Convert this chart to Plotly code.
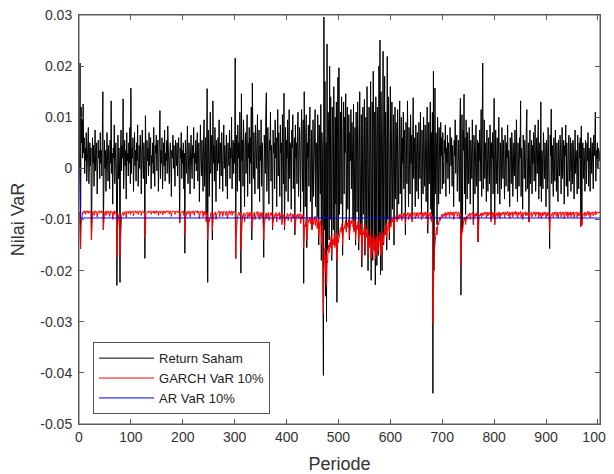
import plotly.graph_objects as go

# Return Saham (units of 1e-4), read period by period from the reference
return_saham_e4 = [
    0, 206, -157, 120, 50, 95, 20, 126, 30, 60, -10, 40, 15, 70, -25, 35, 20, 80, -30, 25, 50, 5, 40, -140, 30,
    60, 10, 45, -35, 20, 75, -5, 30, 50, -50, 15, 55, 20, 35, -20, 70, 10, 35, -15, 45, 150, -120, 25, 55, 0,
    35, -45, 20, 70, 15, -25, 45, 25, -40, 55, 10, 132, -10, 30, -70, 40, 20, 85, -30, 15, 50, 0, -229, 30, 65,
    -20, 40, 10, -223, 30, 75, -5, 45, 20, 136, -40, 25, 55, 5, 35, -60, 70, 15, 30, -15, 50, 10, 80, -30, 157,
    -10, 40, 20, 60, -45, 25, 70, 5, 35, -25, 50, 15, 85, -35, 20, 45, 0, 65, 25, -50, 30, 75, 10, -20, 50,
    15, -176, 103, 30, -30, 55, 15, 40, -15, 70, 5, 35, 60, -40, 25, 10, 50, -10, 80, 20, -35, 45, 30, 65, -5,
    30, 55, -45, 20, 45, 113, -20, 35, 10, 60, -40, 20, 50, 5, 75, -25, 30, 15, 55, -10, 83, 20, 40, -30, 25,
    50, 10, -55, 35, 20, 65, 0, 45, 15, -35, 55, 25, 5, 50, -15, 30, 60, 10, -107, 40, 20, 70, -20, 35, 10,
    50, -40, 30, -166, 55, 20, -10, 40, 83, -30, 25, 50, 15, -50, 35, 65, 5, -20, 45, 20, 80, -40, 30, 10, 55,
    -5, 40, 70, -25, 20, 50, -65, 30, 85, 15, -15, 55, 25, -45, 45, 95, -35, 20, 60, -90, 35, 156, -223, 75, 30,
    -55, 50, 110, -10, 30, 65, -140, 132, 10, 45, -25, 80, 20, -65, 55, 30, -5, 60, 10, 95, -40, 25, 50, -15, 70,
    15, -45, 35, 85, 0, 45, 25, -35, 65, 20, -60, 50, 30, 5, 75, -20, 40, 20, 100, -40, 30, 55, -10, 50, 10,
    216, -176, 65, 30, -45, 85, 20, 50, -25, 110, 40, -205, 146, 15, 55, -35, 95, 25, -75, 45, 70, -10, 30, 105, -55,
    50, 20, 80, -30, 60, 10, 120, -140, 167, 40, -20, 70, 20, -50, 85, 35, 0, 55, 105, -40, 25, 75, -65, 45, 15,
    95, -35, 50, 20, -85, -174, 65, 30, -10, 105, 148, -45, 25, 80, 10, -70, 55, 35, 110, -25, 45, 15, -120, 75, 30,
    50, -40, 95, 20, 60, -75, 35, 115, -15, 70, 5, -55, 85, 30, 50, -95, 105, 25, -30, 147, -120, 45, 80, -45, 55,
    20, 95, -65, 35, 115, -20, 50, 10, -80, 75, 40, 105, -40, 30, 60, -130, 85, 20, 50, -30, 70, 110, -55, 15, 80,
    35, -85, 55, 115, 20, -45, 95, -225, 150, 30, -75, 70, 105, -155, 50, 20, 85, -35, 60, 120, -65, 25, 75, -120, 45,
    95, -55, 20, 80, 115, -75, 50, 30, -95, 105, 60, -150, 85, 25, -50, 125, -180, 70, 40, -200, -405, 296, -120, 170, -250,
    50, -300, 243, -160, 110, 65, -140, 200, -100, 140, 30, -180, 120, 75, -120, 160, 25, -150, 100, -70, 130, -262, 50, 178, -130,
    197, -90, 50, 110, -70, 140, 25, -170, 80, 130, -50, 100, 30, 146, -120, 60, 120, -80, 40, 105, -140, 70, 15, 115, -40,
    90, 35, -100, 125, -120, 50, 80, -150, 110, 25, -85, 130, 60, -160, 90, 150, -130, 45, 105, -193, 75, 120, -90, 30, 135,
    -170, 60, 100, -120, 160, 80, -200, 35, 120, -150, 90, 170, -219, 50, 130, -180, 190, 70, -160, 110, -228, 140, 40, -190, 120,
    90, -170, 200, -140, 251, -208, 150, 50, -200, 130, 229, -150, 80, 180, -130, 110, 35, -160, 219, -100, 140, 60, -140, 100, 160,
    -110, 80, 130, -80, 50, 105, -150, 25, 120, -60, 90, 40, -100, 115, 20, -70, 85, 132, -50, 35, 100, -90, 60, 10, 110,
    -40, 75, 25, -130, 90, 50, -30, 132, 20, -75, 80, 35, -50, 105, 10, 65, -100, 40, 138, -20, 60, 25, -75, 85, 35,
    -45, 70, 15, -60, 90, 40, -20, 110, 50, -90, 75, 20, -50, 100, 35, -35, 85, 10, -65, 60, 120, -127, 40, 90, -30,
    50, 130, -80, 70, -90, 110, -440, 190, -200, 90, 157, -50, 70, 35, -110, 100, 40, -70, 80, 20, -50, 90, 25, 60, -40,
    70, 15, -30, 55, 30, 85, -55, 40, 10, 65, -20, 50, 25, -50, 80, 35, 5, 60, -35, 45, 20, -75, 55, 25, 95,
    -10, 40, 65, -45, 25, 55, 10, -65, 85, 137, -248, 50, 105, -120, 75, 35, 145, -50, 60, -90, 95, 25, -60, 70, 40,
    -30, 80, 20, -70, 55, 35, -20, 95, 5, -110, 65, 45, -50, 30, 85, -35, 20, 55, -144, 50, 15, 75, -25, 40, 115,
    -55, 65, 206, -40, 30, 95, -20, 50, 10, -65, 75, 30, -45, 60, 20, -30, 85, 40, -100, 50, 20, 70, -50, 35, 137,
    -110, 45, 75, -30, 25, 60, -50, 35, 100, 10, -70, 50, 20, -40, 80, 35, -20, 55, 5, -60, 65, 30, -35, 50, 20,
    85, -45, 35, 15, -75, 60, 25, -30, 70, 40, -55, 20, 50, -15, 75, 35, -40, 95, 10, -65, 50, 25, -35, 60, 20,
    132, -55, 40, 15, -80, 65, 35, -20, 55, 20, -45, 80, 115, -40, 30, 50, -105, 35, 75, -30, 20, 55, -50, 45, 10,
    70, -25, 35, 85, -45, 25, 60, -10, 40, 95, -60, 20, 50, -35, 130, -65, 35, 20, -40, 70, 30, -20, 50, 10, -75,
    55, 35, -40, 80, 20, -45, -157, 65, 25, 116, -30, 45, 15, -55, 60, 35, -25, 75, 20, -45, 50, 10, -65, 55, 30,
    -15, 65, 40, -50, 35, 80, -20, 20, 55, -70, 45, 25, 85, -35, 50, 15, -55, 40, 65, -25, 35, 60, -45, 20, 50,
    -30, 55, 25, -60, 45, 75, -10, 35, 10, -50, 65, 30, -40, 50, 20, 60, -114, 83, -110, 35, 50, -20, 40, 20, -45,
    55, 30, -30, 50, 15, 70, -35, 40, 25, -45, 60, 35, -10, 50, 10, -40, 65, 25, 45, 110, -25, 35, 20, 50, 0,
    40, 25, 15, 35,
]

# GARCH VaR 10% (units of 1e-4)
garch_var_e4 = [
    -85, -130, -157, -110, -95, -90, -86, -88, -84, -86, -83, -85, -90, -84, -86, -83, -85, -88, -84, -86, -83, -85, -87, -140, -100,
    -90, -84, -86, -92, -85, -83, -86, -84, -85, -95, -86, -84, -83, -86, -88, -84, -85, -83, -87, -85, -84, -120, -95, -88, -85,
    -84, -92, -86, -83, -85, -88, -84, -86, -94, -85, -83, -84, -86, -85, -100, -88, -84, -83, -90, -85, -84, -86, -174, -120, -100,
    -95, -90, -88, -170, -130, -105, -95, -90, -88, -86, -92, -87, -85, -84, -86, -96, -85, -84, -86, -88, -84, -85, -83, -90, -85,
    -87, -84, -85, -83, -93, -86, -84, -85, -83, -88, -85, -84, -83, -90, -86, -84, -85, -83, -86, -92, -85, -84, -83, -87, -85,
    -86, -135, -100, -90, -88, -86, -84, -85, -87, -83, -85, -84, -83, -90, -86, -84, -85, -87, -83, -85, -89, -84, -86, -83, -87,
    -85, -84, -92, -86, -84, -83, -88, -85, -84, -83, -91, -86, -84, -83, -85, -88, -84, -85, -83, -86, -84, -83, -85, -89, -84,
    -83, -85, -94, -86, -84, -83, -85, -84, -86, -90, -84, -83, -85, -84, -87, -85, -83, -84, -107, -92, -88, -85, -87, -84, -85,
    -83, -92, -86, -130, -100, -92, -88, -85, -84, -89, -85, -83, -84, -95, -86, -84, -85, -88, -84, -85, -83, -92, -86, -84, -83,
    -86, -84, -83, -88, -85, -84, -98, -88, -84, -85, -86, -84, -83, -95, -86, -84, -90, -85, -84, -105, -92, -88, -140, -110, -98,
    -105, -95, -90, -88, -86, -85, -120, -100, -92, -89, -91, -87, -85, -100, -90, -87, -86, -84, -85, -83, -95, -88, -85, -87, -84,
    -85, -94, -87, -84, -85, -84, -86, -92, -85, -84, -98, -88, -85, -84, -83, -90, -86, -84, -83, -92, -86, -84, -87, -84, -85,
    -84, -176, -130, -105, -100, -92, -88, -86, -92, -87, -86, -160, -120, -100, -92, -95, -89, -87, -105, -94, -90, -89, -88, -86, -98,
    -92, -88, -86, -95, -89, -87, -85, -120, -105, -95, -91, -88, -86, -100, -92, -88, -86, -85, -84, -95, -89, -86, -100, -92, -88,
    -86, -95, -89, -87, -110, -140, -112, -98, -92, -89, -87, -98, -91, -88, -86, -102, -93, -89, -87, -92, -88, -86, -115, -100, -93,
    -90, -96, -89, -87, -86, -105, -94, -90, -92, -88, -86, -100, -92, -89, -87, -110, -97, -91, -95, -90, -115, -102, -95, -98, -92,
    -90, -88, -102, -94, -90, -93, -89, -87, -105, -95, -91, -89, -97, -92, -89, -120, -104, -96, -92, -95, -91, -89, -99, -93, -90,
    -88, -108, -97, -92, -90, -98, -92, -155, -125, -110, -115, -102, -96, -140, -118, -106, -100, -104, -98, -95, -108, -99, -95, -120, -105,
    -98, -110, -100, -96, -93, -112, -101, -96, -118, -105, -99, -135, -115, -105, -110, -102, -150, -125, -112, -170, -284, -200, -175, -155, -205,
    -170, -230, -180, -185, -160, -150, -165, -145, -155, -140, -132, -170, -148, -138, -150, -135, -128, -155, -140, -132, -126, -180, -150, -138, -145,
    -130, -135, -122, -116, -125, -115, -108, -150, -128, -116, -118, -110, -105, -102, -125, -112, -106, -115, -106, -100, -135, -115, -106, -102, -108,
    -100, -96, -115, -104, -125, -110, -102, -140, -122, -112, -120, -108, -102, -145, -125, -115, -130, -116, -108, -176, -140, -125, -130, -118, -110,
    -155, -135, -122, -135, -120, -112, -170, -145, -130, -155, -135, -122, -176, -150, -135, -165, -140, -128, -155, -138, -176, -150, -135, -170, -145,
    -132, -160, -138, -145, -125, -170, -145, -130, -165, -140, -126, -145, -128, -118, -130, -115, -108, -135, -118, -120, -110, -104, -125, -110, -104,
    -115, -104, -98, -105, -96, -93, -120, -100, -95, -98, -93, -90, -105, -95, -92, -100, -93, -90, -96, -91, -89, -102, -94, -90, -88,
    -95, -90, -87, -110, -95, -90, -92, -88, -86, -100, -91, -88, -95, -89, -87, -86, -105, -93, -89, -90, -87, -86, -98, -90, -87,
    -94, -89, -86, -96, -89, -87, -90, -86, -85, -100, -90, -87, -95, -88, -86, -92, -87, -85, -98, -89, -86, -110, -95, -90, -92,
    -89, -86, -100, -91, -105, -94, -303, -200, -180, -160, -140, -135, -125, -115, -130, -112, -105, -110, -100, -96, -102, -95, -92, -90, -96,
    -91, -89, -94, -89, -87, -86, -96, -89, -87, -86, -91, -87, -85, -96, -88, -86, -85, -87, -92, -87, -85, -100, -90, -87, -85,
    -88, -86, -85, -94, -88, -86, -85, -98, -89, -87, -190, -140, -118, -125, -108, -100, -96, -102, -95, -110, -98, -93, -100, -93, -90,
    -94, -89, -87, -100, -91, -88, -90, -87, -85, -108, -94, -89, -95, -89, -87, -93, -88, -86, -144, -105, -95, -91, -93, -89, -87,
    -95, -89, -87, -92, -88, -86, -90, -87, -85, -97, -89, -86, -93, -88, -86, -90, -86, -85, -105, -92, -88, -86, -95, -89, -86,
    -110, -94, -89, -92, -88, -86, -95, -89, -86, -85, -98, -90, -87, -92, -88, -86, -90, -87, -85, -96, -89, -86, -91, -87, -85,
    -84, -93, -88, -86, -98, -89, -86, -90, -86, -85, -95, -88, -86, -89, -85, -84, -92, -87, -85, -97, -89, -86, -91, -87, -85,
    -84, -95, -88, -86, -100, -90, -87, -89, -86, -85, -93, -88, -86, -92, -87, -85, -105, -93, -89, -91, -87, -85, -95, -89, -86,
    -85, -90, -87, -85, -94, -88, -86, -89, -86, -85, -96, -89, -86, -92, -87, -98, -89, -86, -93, -88, -86, -90, -87, -85, -97,
    -89, -86, -93, -88, -86, -94, -123, -100, -93, -89, -92, -88, -86, -96, -89, -86, -90, -87, -85, -94, -88, -86, -97, -89, -86,
    -88, -86, -85, -95, -88, -86, -90, -87, -85, -98, -89, -86, -85, -92, -87, -85, -96, -88, -86, -91, -87, -85, -95, -88, -86,
    -90, -87, -85, -97, -89, -86, -88, -86, -85, -96, -88, -86, -93, -88, -86, -85, -112, -100, -112, -95, -90, -91, -87, -86, -94,
    -88, -86, -92, -87, -85, -84, -92, -87, -85, -96, -88, -86, -90, -87, -85, -93, -88, -86, -85, -84, -91, -87, -85, -86, -88,
    -86, -85, -87, -85,
]

# AR VaR 10% (constant level after the first period)
ar_var_first = 0.0
ar_var_level = -0.0097

y_tick_vals = [0.03, 0.02, 0.01, 0.0, -0.01, -0.02, -0.03, -0.04, -0.05]
y_tick_text = ["0.03", "0.02", "0.01", "0", "-0.01", "-0.02", "-0.03", "-0.04", "-0.05"]
x_tick_vals = [0, 100, 200, 300, 400, 500, 600, 700, 800, 900, 1000]

return_saham = [v / 10000 for v in return_saham_e4]
garch_var = [v / 10000 for v in garch_var_e4]
n_ret = len(return_saham)
ar_var = [ar_var_first] + [ar_var_level] * (n_ret - 1)

periode_ret = list(range(1, n_ret + 1))
periode_garch = list(range(1, len(garch_var) + 1))
periode_ar = list(range(1, len(ar_var) + 1))

FONT = "Liberation Sans, Arial, sans-serif"
AXC = "#5a5a5a"
TXT = "#333333"

fig = go.Figure()
fig.add_trace(go.Scatter(x=periode_ret, y=return_saham, mode="lines", name="Return Saham",
                         line=dict(color="#000000", width=1)))
fig.add_trace(go.Scatter(x=periode_garch, y=garch_var, mode="lines", name="GARCH VaR 10%",
                         line=dict(color="#ff0000", width=1)))
fig.add_trace(go.Scatter(x=periode_ar, y=ar_var, mode="lines", name="AR VaR 10%",
                         line=dict(color="#0000ff", width=1)))

# the page body adds an 8px offset, so the figure is drawn 8px smaller
fig.update_layout(
    width=606, height=466,
    margin=dict(l=71, r=14, t=7, b=50, autoexpand=False),
    paper_bgcolor="white", plot_bgcolor="white",
    font=dict(family=FONT, size=14, color=TXT),
    showlegend=True,
    legend=dict(x=0.027, y=0.2, xanchor="left", yanchor="top",
                bgcolor="white", bordercolor="#555555", borderwidth=1,
                font=dict(family=FONT, size=13, color="#222222"),
                tracegroupgap=0, itemwidth=55),
    shapes=[dict(type="rect", xref="paper", yref="paper", x0=0, x1=1, y0=0, y1=1,
                 line=dict(color=AXC, width=1), fillcolor="rgba(0,0,0,0)", layer="above")],
)
fig.update_xaxes(range=[0, 1004], tickvals=x_tick_vals, showgrid=False, zeroline=False,
                 automargin=False, ticklabeloverflow="allow",
                 showline=True, linecolor=AXC, linewidth=1, mirror="ticks",
                 ticks="inside", ticklen=5, tickcolor=AXC,
                 title=dict(text="Periode", font=dict(family=FONT, size=18, color=TXT), standoff=14),
                 tickfont=dict(family=FONT, size=14, color=TXT))
fig.update_yaxes(range=[-0.05, 0.03], tickvals=y_tick_vals, ticktext=y_tick_text, showgrid=False,
                 zeroline=False, automargin=False, ticklabeloverflow="allow",
                 showline=True, linecolor=AXC, linewidth=1, mirror="ticks",
                 ticks="inside", ticklen=5, tickcolor=AXC, ticklabelstandoff=3,
                 title=dict(text="Nilai VaR", font=dict(family=FONT, size=18, color=TXT), standoff=12),
                 tickfont=dict(family=FONT, size=14, color=TXT))

fig.write_html("out.html")
